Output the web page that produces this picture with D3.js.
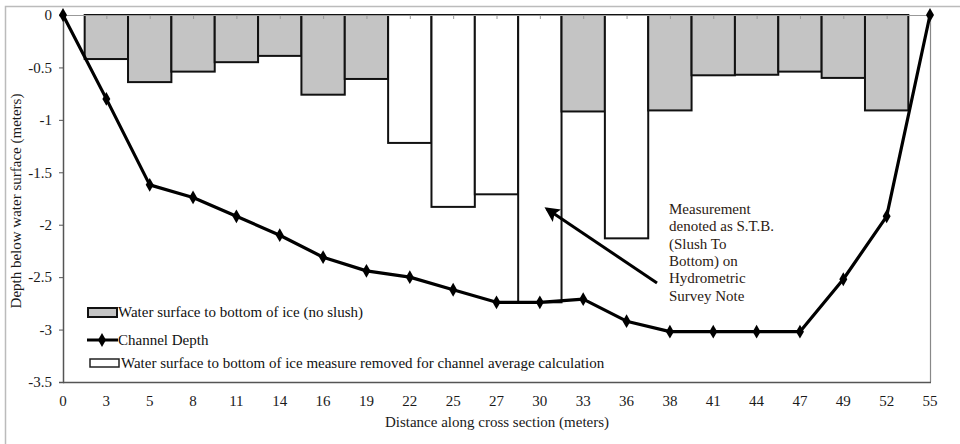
<!DOCTYPE html>
<html><head><meta charset="utf-8">
<script src="https://cdn.jsdelivr.net/npm/d3@7"></script>
<style>body{margin:0;background:#fff}svg{display:block}</style>
</head><body><svg id="c" width="960" height="444"></svg>
<script>
const categories = ["0","3","5","8","11","14","16","19","22","25","27","30","33","36","38","41","44","47","49","52","55"];
const channelDepth = [0,-0.80,-1.62,-1.74,-1.92,-2.10,-2.31,-2.44,-2.50,-2.62,-2.74,-2.74,-2.71,-2.92,-3.02,-3.02,-3.02,-3.02,-2.52,-1.92,0];
const barCats = ["3","5","8","11","14","16","19","22","25","27","30","33","36","38","41","44","47","49","52"];
const iceValues = [-0.42,-0.64,-0.54,-0.45,-0.39,-0.76,-0.61,-1.22,-1.83,-1.71,-2.74,-0.92,-2.13,-0.91,-0.575,-0.57,-0.54,-0.60,-0.91];
const removed = [false,false,false,false,false,false,false,true,true,true,true,false,true,false,false,false,false,false,false];
const yTicks = [0,-0.5,-1,-1.5,-2,-2.5,-3,-3.5];
const legendLabels = ["Water surface to bottom of ice (no slush)","Channel Depth","Water surface to bottom of ice measure removed for channel average calculation"];
const noteLines = ["Measurement","denoted as S.T.B.","(Slush To","Bottom)  on","Hydrometric","Survey Note"];

const FONT = "Liberation Serif";
const FS = 15;
const svg = d3.select("#c");
const L=63,R=930,T=15,B=382;
svg.append("rect").attr("x",5.5).attr("y",6.5).attr("width",970).attr("height",460).attr("fill","none").attr("stroke","#bbb").attr("stroke-width",1.5);

const x = d3.scalePoint().domain(categories).range([L,R]);
const step = x.step();
const y = d3.scaleLinear().domain([-3.5,0]).range([B,T]);

svg.append("line").attr("x1",R+0.5).attr("x2",R+0.5).attr("y1",T).attr("y2",B).attr("stroke","#888").attr("stroke-width",1.2);

const bars = barCats.map((c,i)=>({c,v:iceValues[i],rem:removed[i]}));
svg.append("g").selectAll("rect").data(bars).join("rect")
  .attr("x",d=>x(d.c)-step/2).attr("width",step)
  .attr("y",y(0)).attr("height",d=>y(d.v)-y(0))
  .attr("fill",d=>d.rem?"#fff":"#c4c4c4").attr("stroke","#111").attr("stroke-width",2);

const xa = svg.append("g").attr("transform",`translate(0,${T})`).call(d3.axisBottom(x).tickSize(4).tickFormat(""));
xa.select(".domain").attr("stroke","#999");
xa.selectAll(".tick line").attr("stroke","#999");
svg.append("g").selectAll("text").data(categories).join("text")
  .attr("x",d=>x(d)).attr("y",406).attr("text-anchor","middle").attr("font-size",FS).attr("font-family",FONT).attr("fill","#1a1a1a").text(d=>d);

const ya = svg.append("g").attr("transform",`translate(${L},0)`).call(d3.axisLeft(y).tickValues(yTicks).tickSize(4).tickFormat(d=>d));
ya.attr("font-family",FONT);
ya.select(".domain").attr("stroke","#555").attr("stroke-width",1.5);
ya.selectAll(".tick line").attr("stroke","#555");
ya.selectAll(".tick text").attr("font-size",FS).attr("fill","#1a1a1a").attr("dx",-4);
svg.append("line").attr("x1",L).attr("x2",R+1).attr("y1",B+0.5).attr("y2",B+0.5).attr("stroke","#555").attr("stroke-width",1.5);

const line = d3.line().x((d,i)=>x(categories[i])).y(d=>y(d));
svg.append("path").datum(channelDepth).attr("d",line).attr("fill","none").attr("stroke","#000").attr("stroke-width",3.2).attr("stroke-linejoin","round");
const diamond = d3.symbol().type(d3.symbolDiamond).size(55);
svg.append("g").selectAll("path").data(channelDepth).join("path")
  .attr("transform",(d,i)=>`translate(${x(categories[i])},${y(d)})`).attr("d",diamond).attr("fill","#000");

const lg = svg.append("g").attr("font-family",FONT).attr("font-size",FS);
lg.append("rect").attr("x",88).attr("y",308).attr("width",29).attr("height",9).attr("fill","#c4c4c4").attr("stroke","#111").attr("stroke-width",2);
lg.append("text").attr("x",118).attr("y",317).attr("fill","#111").text(legendLabels[0]);
lg.append("line").attr("x1",87).attr("x2",118).attr("y1",340).attr("y2",340).attr("stroke","#000").attr("stroke-width",3);
lg.append("path").attr("transform","translate(102,340)").attr("d",diamond).attr("fill","#000");
lg.append("text").attr("x",118).attr("y",345).attr("fill","#111").text(legendLabels[1]);
lg.append("rect").attr("x",90).attr("y",359).attr("width",29).attr("height",8).attr("fill","#fff").attr("stroke","#222").attr("stroke-width",1.5);
lg.append("text").attr("x",121).attr("y",368).attr("fill","#111").text(legendLabels[2]);

svg.append("defs").append("marker").attr("id","ah").attr("viewBox","0 0 10 10").attr("refX",8).attr("refY",5)
  .attr("markerWidth",5).attr("markerHeight",5).attr("orient","auto")
  .append("path").attr("d","M0,0L10,5L0,10L2,5z").attr("fill","#000");
svg.append("line").attr("x1",657).attr("y1",283).attr("x2",547).attr("y2",209).attr("stroke","#000").attr("stroke-width",3).attr("marker-end","url(#ah)");
svg.append("g").attr("font-family",FONT).attr("font-size",FS).selectAll("text").data(noteLines).join("text")
  .attr("x",669).attr("y",(d,i)=>214+i*17.3).attr("fill","#2b2012").text(d=>d);

svg.append("text").attr("transform","translate(21,201) rotate(-90)").attr("text-anchor","middle").attr("font-size",FS).attr("font-family",FONT).attr("fill","#1a1a1a").text("Depth below water surface (meters)");
svg.append("text").attr("x",497).attr("y",427).attr("text-anchor","middle").attr("font-size",FS).attr("font-family",FONT).attr("fill","#1a1a1a").text("Distance along cross section (meters)");
</script></body></html>
